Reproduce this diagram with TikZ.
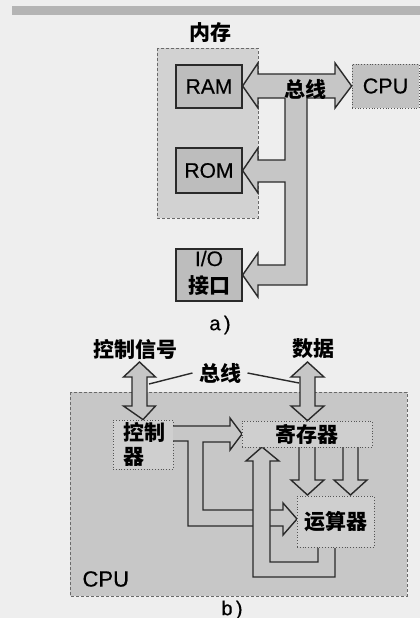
\documentclass[tikz,border=0pt]{standalone}
\usepackage{fontspec}
\setmainfont{Liberation Sans}[FakeBold=0.4]
\newfontfamily\cjk{Noto Sans CJK SC}
\begin{document}
\begin{tikzpicture}[x=1pt,y=-1pt,
  latin/.style={font=\fontsize{21}{24}\selectfont},
  cjktext/.style={font=\cjk\bfseries\fontsize{21}{24}\selectfont},
  membox/.style={draw=linec, line width=1.2pt, fill=boxfill, inner sep=0pt, font=\fontsize{21}{24}\selectfont},
  dotbox/.style={draw=linec!80, line width=0.8pt, dotted, inner sep=0pt},
  region/.style={draw=linec!70, line width=0.8pt, dash pattern=on 3pt off 2pt},
  blockarrow/.style={draw=linec, line width=1.4pt, fill=busfill, line join=miter},
  thinline/.style={draw=linec, line width=1.4pt}
]
\definecolor{pagebg}{HTML}{EEEEEE}
\definecolor{bandc}{HTML}{B4B4B4}
\definecolor{linec}{HTML}{2A2A2A}
\definecolor{memfill}{HTML}{D2D2D2}
\definecolor{boxfill}{HTML}{BDBDBD}
\definecolor{busfill}{HTML}{C6C6C6}
\definecolor{cpufill}{HTML}{C2C2C2}
\definecolor{bigfill}{HTML}{C7C7C7}
\definecolor{innerfill}{HTML}{CFCFCF}
\useasboundingbox (0,0) rectangle (420,618);
\fill[pagebg] (0,0) rectangle (420,618);
\fill[bandc] (12,6) rectangle (420,15);

% ---------------- a) ----------------
\path[region, fill=memfill] (157,48) rectangle (258,218);
\node[cjktext] (memlabel) at (210,33) {内存};
\node[membox, minimum width=66pt, minimum height=43pt] (ram) at (209,86.5) {RAM};
\node[membox, minimum width=66pt, minimum height=45pt] (rom) at (209,170.5) {ROM};
\node[membox, minimum width=66pt, minimum height=52pt] (io) at (209,275) {};
\node[latin] (iotxt1) at (209,258.5) {I/O};
\node[cjktext] (iotxt2) at (209,285.5) {接口};
\node[dotbox, fill=cpufill, minimum width=67pt, minimum height=44pt, font=\fontsize{21.5}{24}\selectfont] (cpua) at (385.5,86) {CPU};

\path[blockarrow]
  (ram.east |- 0,86) -- (258,63) -- (258,74) -- (335,74) -- (335,63)
  -- (cpua.west |- 0,86) -- (335,108) -- (335,98) -- (307,98) -- (307,285)
  -- (258,285) -- (258,297) -- (io.east |- 0,275) -- (258,253) -- (258,265)
  -- (285,265) -- (285,182) -- (258,182) -- (258,193) -- (rom.east |- 0,170.5)
  -- (258,148) -- (258,160) -- (285,160) -- (285,98) -- (258,98) -- (258,108) -- cycle;
\node[cjktext] (busa) at (305,89) {总线};
\node[font=\fontsize{20}{24}\selectfont] (capa) at (220,325) {a\,)};

% ---------------- b) ----------------
\path[region, fill=bigfill] (70,392) rectangle (407,596);
\node[anchor=west, font=\fontsize{22}{24}\selectfont] (cpub) at (79,579) {CPU};

\node[dotbox, fill=innerfill, minimum width=60pt, minimum height=49pt] (ctrl) at (143,444.5) {};
\node[cjktext, anchor=west] (ctrltxt1) at (120,432) {控制};
\node[cjktext, anchor=west] (ctrltxt2) at (120,457) {器};

% controller -> register / alu
\path[blockarrow, fill=bigfill]
  (173,426) -- (230,426) -- (230,418) -- (242,434) -- (230,450)
  -- (230,442) -- (203,442) -- (203,510) -- (283,510) -- (283,503)
  -- (297,519) -- (283,535) -- (283,526) -- (188,526) -- (188,441)
  -- (173,441);
% alu -> register (feedback)
\path[blockarrow, fill=bigfill]
  (318,548) -- (318,562) -- (270,562) -- (270,461) -- (279,461) -- (262,447)
  -- (246,461) -- (253,461) -- (253,577) -- (335,577) -- (335,548);
% register -> alu
\path[blockarrow, fill=bigfill]
  (299,447) -- (299,480) -- (291,480) -- (307.5,495) -- (324,480) -- (315,480) -- (315,447);
\path[blockarrow, fill=bigfill]
  (343,447) -- (343,480) -- (334,480) -- (350.5,495) -- (367,480) -- (358,480) -- (358,447);
\node[dotbox, fill=innerfill, minimum width=130pt, minimum height=26pt, cjktext] (reg) at (307,434) {寄存器};
\node[dotbox, fill=innerfill, minimum width=77pt, minimum height=51pt, cjktext] (alu) at (335.5,521.5) {运算器};

% external bus arrows
\node[cjktext] (ctrlsig) at (135,349) {控制信号};
\node[cjktext] (data) at (313,349) {数据};
\coordinate (ctop) at (139.5,362);
\coordinate (dtop) at (307.5,362);
\path[blockarrow]
  (ctop) -- (155.5,377) -- (147,377) -- (147,406) -- (155.5,406) -- (ctrl.north)
  -- (123.5,406) -- (132,406) -- (132,377) -- (123.5,377) -- cycle;
\path[blockarrow]
  (dtop) -- (324,377) -- (315,377) -- (315,406) -- (324,406) -- (reg.north -| dtop)
  -- (291,406) -- (300,406) -- (300,377) -- (291,377) -- cycle;
\node[cjktext] (busb) at (220,373) {总线};
\coordinate (lc) at (149,384);
\coordinate (rc) at (299,383);
\draw[thinline] (busb.west) ++(-3,0) -- (lc);
\draw[thinline] (busb.east) ++(3,0) -- (rc);
\node[font=\fontsize{20}{24}\selectfont] (capb) at (232,610) {b\,)};
\end{tikzpicture}
\end{document}
